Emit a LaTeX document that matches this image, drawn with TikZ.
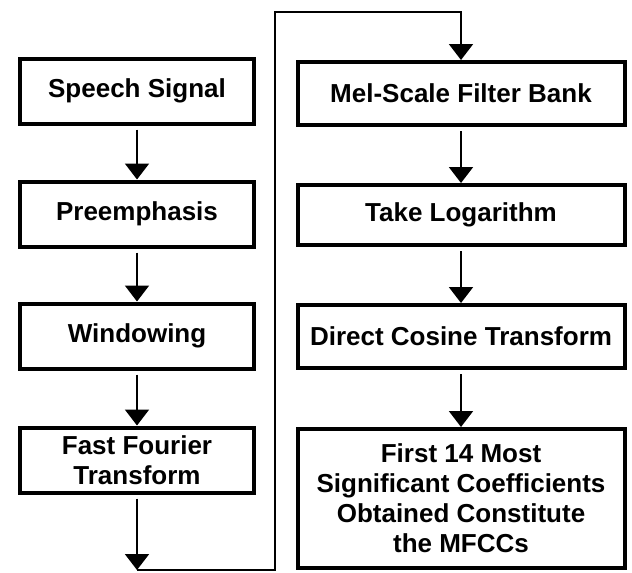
\documentclass[tikz,border=0pt]{standalone}
\usepackage{fontspec}
\setmainfont{Liberation Sans}
\usetikzlibrary{arrows.meta,positioning}

\begin{document}
\begin{tikzpicture}[
    x=1pt, y=-1pt,
    box/.style={rectangle, draw, line width=4pt, align=center, inner sep=2pt,
        font=\fontsize{26}{30}\selectfont\bfseries},
    leftbox/.style={box, minimum width=234pt, minimum height=65pt},
    rightbox/.style={box, minimum width=327pt, minimum height=63pt},
    arrow/.style={-{Triangle[width=24pt,length=16pt]}, line width=2pt, shorten <=4pt},
    loopline/.style={-{Triangle[width=24pt,length=16pt]}, line width=2pt}
]
    \useasboundingbox (0,0) rectangle (632,573);

    \node[leftbox] (speech) at (137,91) {Speech Signal};
    \node[leftbox, below=54pt of speech] (preemph) {Preemphasis};
    \node[leftbox, below=53pt of preemph] (window) {Windowing};
    \node[leftbox, below=55pt of window] (fft) {Fast Fourier\\Transform};

    \node[rightbox] (mel) at (461,93.5) {Mel-Scale Filter Bank};
    \node[rightbox, minimum height=60pt, below=56pt of mel] (logarithm) {Take Logarithm};
    \node[rightbox, below=56pt of logarithm] (dct) {Direct Cosine Transform};
    \node[rightbox, minimum height=139pt, below=57pt of dct] (mfcc) {First 14 Most\\Significant Coefficients\\Obtained Constitute\\the MFCCs};

    \coordinate (low) at (275,570);
    \coordinate (high) at (275,12);

    \draw[arrow] (speech.south) -- (preemph.north);
    \draw[arrow] (preemph.south) -- (window.north);
    \draw[arrow] (window.south) -- (fft.north);
    \draw[arrow] (fft.south) -- (fft.south |- low);
    \draw[loopline] (fft.south |- low) -- (low) -- (high) -- (high -| mel.north) -- (mel.north);
    \draw[arrow] (mel.south) -- (logarithm.north);
    \draw[arrow] (logarithm.south) -- (dct.north);
    \draw[arrow] (dct.south) -- (mfcc.north);
\end{tikzpicture}
\end{document}
